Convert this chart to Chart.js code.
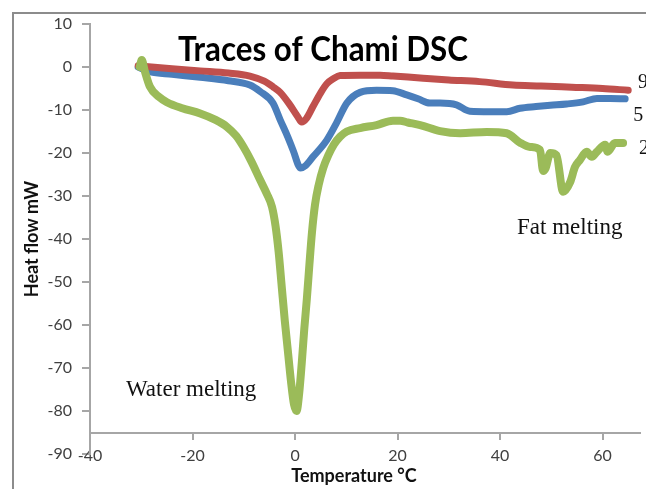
<!DOCTYPE html>
<html>
<head>
<meta charset="utf-8">
<script src="https://cdn.jsdelivr.net/npm/chart.js@4.4.1/dist/chart.umd.min.js"></script>
<style>
  html, body { margin: 0; padding: 0; background: #fff; }
  #wrap { width: 646px; height: 489px; position: relative; }
</style>
</head>
<body>
<div id="wrap"><canvas id="dscChart"></canvas></div>
<script>
/* ================= DATA ================= */

// sample "9"
const temp9 = [-30.6, -28, -24, -18.5, -13, -8.8, -6, -4.3, -2.9, -1, 0.5, 1.3, 2.2, 3.5, 5, 6.2, 7.5, 8.8, 12.7, 16.6, 19.1, 25, 30, 36, 42.5, 48, 54, 60, 65];
const flow9 = [0.3, 0, -0.4, -0.9, -1.4, -2.1, -3.3, -4.6, -5.9, -8.8, -11.5, -12.8, -12, -9.2, -6, -3.9, -2.7, -2, -1.9, -1.9, -2.1, -2.6, -3, -3.4, -4.2, -4.4, -4.7, -5, -5.4];

// sample "5"
const temp5 = [-30.6, -28.3, -24, -18.5, -13, -8.8, -6.8, -4.3, -2.9, -1.4, -0.4, 1.1, 2, 3.5, 6.2, 8.1, 10.1, 12.7, 15.9, 19.1, 21.8, 24, 26.3, 28.3, 31.5, 34.1, 38, 41.3, 43.9, 47, 49.8, 53, 56.2, 58.9, 61.5, 64.4];
const flow5 = [0, -1.1, -1.7, -2.4, -3.2, -4.2, -5.7, -8.4, -12.3, -16.3, -19.3, -23.5, -23, -20.9, -17, -13, -8.4, -5.9, -5.4, -5.5, -6.5, -7.4, -8.4, -8.4, -8.8, -10.3, -10.4, -10.4, -9.6, -9.2, -8.9, -8.6, -8.1, -7.3, -7.3, -7.4];

// sample "2"
const temp2 = [-30.3, -29.9, -29.3, -28.3, -26.5, -25, -22, -18.5, -15.5, -13.3, -11.5, -10.1, -8.5, -6.8, -5.5, -4.5, -3.8, -3.2, -2.6, -2, -1.4, -0.8, -0.2, 0.3, 0.8, 1.3, 1.8, 2.3, 2.8, 3.3, 3.9, 4.6, 5.5, 6.5, 7.6, 8.8, 10.1, 12.7, 15.9, 19.1, 20.5, 22, 24.4, 28.3, 32.2, 37.4, 41.3, 43.9, 45.9, 47.8, 48.4, 48.9, 49.8, 51, 52.3, 53.7, 54.6, 55.6, 56.9, 57.9, 58.9, 60.5, 61, 62.4, 64];
const flow2 = [0, 1.6, -1, -4.6, -7, -8.2, -9.6, -10.8, -12.3, -13.9, -16, -18.5, -22, -26.3, -29.5, -32.5, -37, -43, -51, -59, -66, -73, -78.5, -80, -76, -69, -61, -54, -46, -38.5, -32, -27.5, -23.5, -20.5, -18, -16.2, -15, -14.2, -13.5, -12.5, -12.5, -12.9, -13.5, -14.9, -15.4, -15.1, -15.4, -17.6, -18.6, -19.3, -24.2, -23.5, -20, -20.5, -29, -26.7, -23.3, -21.6, -19.7, -20.9, -19.7, -18.1, -19.7, -17.7, -17.7];

const yTicks = [10, 0, -10, -20, -30, -40, -50, -60, -70, -80, -90];
const xTicks = [-40, -20, 0, 20, 40, 60];

const seriesNames = ["9", "5", "2"];

/* ================= HELPERS ================= */

function toPoints(xs, ys) {
  return xs.map((x, i) => ({ x: x, y: ys[i] }));
}

const textFont = "Lato, 'Open Sans', sans-serif";
const serifFont = "'Liberation Serif', 'Times New Roman', serif";

/* ================= DECORATION PLUGIN ================= */

const decorPlugin = {
  id: "decor",
  beforeDraw(chart) {
    const c = chart.ctx;
    c.save();
    c.fillStyle = "#fff";
    c.fillRect(0, 0, chart.width, chart.height);
    // outer frame (left + top)
    c.strokeStyle = "#8c8c8c";
    c.lineWidth = 2;
    c.beginPath();
    c.moveTo(13, chart.height);
    c.lineTo(13, 13);
    c.lineTo(chart.width, 13);
    c.stroke();
    c.restore();
  },
  afterDraw(chart) {
    const c = chart.ctx;
    const xs = chart.scales.x;
    const ys = chart.scales.y;
    c.save();

    // title, squeezed to the reference width
    c.font = "bold 34px " + textFont;
    c.fillStyle = "#000";
    c.textAlign = "center";
    c.textBaseline = "middle";
    const title = "Traces of Chami DSC";
    const w = c.measureText(title).width;
    c.save();
    c.translate(323, 50);
    c.scale(Math.min(1, 290 / w), 1);
    c.fillText(title, 0, 0);
    c.restore();

    // x axis title (sits left of the plot centre in the original)
    c.font = "bold 18px " + textFont;
    c.fillStyle = "#111";
    c.fillText("Temperature \u00B0C", 354, 476);

    // annotations
    c.font = "23px " + serifFont;
    c.textAlign = "left";
    c.fillText("Water melting", 126, 390);
    c.fillText("Fat melting", 517, 228);

    // series labels at the right end
    c.font = "20px " + serifFont;
    const labelPos = [[66.9, -3.7], [66.0, -11.4], [67.1, -19.1]];
    seriesNames.forEach((name, i) => {
      c.fillText(name, xs.getPixelForValue(labelPos[i][0]), ys.getPixelForValue(labelPos[i][1]));
    });
    c.restore();
  }
};

/* ================= CHART ================= */

const ctx = document.getElementById("dscChart").getContext("2d");

const axisGray = "#a6a6a6";
const tickColor = "#404040";

new Chart(ctx, {
  type: "line",
  data: {
    datasets: [
      {
        label: seriesNames[2],
        data: toPoints(temp2, flow2),
        borderColor: "#9BBB59",
        borderWidth: 8,
        order: 0
      },
      {
        label: seriesNames[0],
        data: toPoints(temp9, flow9),
        borderColor: "#C0504D",
        borderWidth: 7,
        order: 1
      },
      {
        label: seriesNames[1],
        data: toPoints(temp5, flow5),
        borderColor: "#4A7EBB",
        borderWidth: 7,
        order: 2
      }
    ]
  },
  options: {
    responsive: true,
    maintainAspectRatio: false,
    animation: false,
    layout: { padding: { top: 24, right: 6, bottom: 35, left: 0 } },
    elements: {
      point: { radius: 0 },
      line: { fill: false, cubicInterpolationMode: "monotone", borderJoinStyle: "round", borderCapStyle: "round" }
    },
    plugins: {
      legend: { display: false },
      tooltip: { enabled: false }
    },
    scales: {
      x: {
        type: "linear",
        min: -40,
        max: 67.3,
        position: { y: -85 },
        border: { color: axisGray, width: 2 },
        grid: { drawOnChartArea: false, tickLength: 6, color: axisGray, lineWidth: 2 },
        afterBuildTicks: (scale) => { scale.ticks = xTicks.map(v => ({ value: v })); },
        ticks: {
          color: tickColor,
          font: { family: textFont, size: 16 },
          padding: 8,
          maxRotation: 0
        }
      },
      y: {
        min: -90,
        max: 10,
        border: { color: axisGray, width: 2 },
        grid: { drawOnChartArea: false, tickLength: 8, color: axisGray, lineWidth: 2 },
        afterBuildTicks: (scale) => { scale.ticks = yTicks.map(v => ({ value: v })); },
        afterFit: (scale) => { scale.width = 90; },
        ticks: {
          color: tickColor,
          font: { family: textFont, size: 16 },
          padding: 10
        },
        title: {
          display: true,
          text: "Heat flow mW",
          color: "#111",
          font: { family: textFont, size: 18, weight: "bold" },
          padding: { top: 21, bottom: 0 }
        }
      }
    }
  },
  plugins: [decorPlugin]
});
</script>
</body>
</html>
